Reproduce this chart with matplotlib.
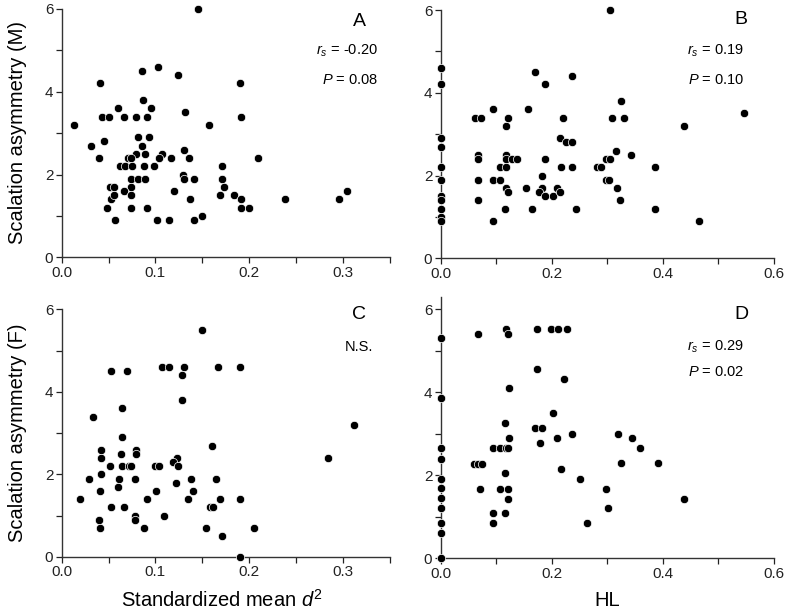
import matplotlib
matplotlib.use("Agg")
import matplotlib.pyplot as plt
import numpy as np

plt.rcParams['font.family'] = ['Liberation Sans', 'DejaVu Sans']
plt.rcParams['mathtext.fontset'] = 'custom'
plt.rcParams['mathtext.rm'] = 'Liberation Sans'
plt.rcParams['mathtext.it'] = 'Liberation Sans:italic'

# ---- data ----
a_x = [0.145, 0.013, 0.041, 0.086, 0.103, 0.124, 0.087, 0.060, 0.095, 0.043, 0.050, 0.066, 0.079, 0.091,
       0.132, 0.157, 0.031, 0.045, 0.081, 0.093, 0.086, 0.040, 0.079, 0.089, 0.071, 0.074, 0.107, 0.104,
       0.117, 0.130, 0.136, 0.062, 0.068, 0.075, 0.088, 0.099, 0.074, 0.081, 0.089, 0.129, 0.131, 0.141,
       0.171, 0.171, 0.173, 0.169, 0.052, 0.056, 0.074, 0.066, 0.053, 0.056, 0.074, 0.120, 0.137, 0.048,
       0.074, 0.091, 0.057, 0.102, 0.114, 0.141, 0.150, 0.190, 0.191, 0.209, 0.184, 0.191, 0.191, 0.200,
       0.238, 0.296, 0.304]
a_y = [6.0, 3.2, 4.2, 4.5, 4.6, 4.4, 3.8, 3.6, 3.6, 3.4, 3.4, 3.4, 3.4, 3.4,
       3.5, 3.2, 2.7, 2.8, 2.9, 2.9, 2.7, 2.4, 2.5, 2.5, 2.4, 2.4, 2.5, 2.4,
       2.4, 2.6, 2.4, 2.2, 2.2, 2.2, 2.2, 2.2, 1.9, 1.9, 1.9, 2.0, 1.9, 1.9,
       2.2, 1.9, 1.7, 1.5, 1.7, 1.7, 1.7, 1.6, 1.4, 1.5, 1.5, 1.6, 1.4, 1.2,
       1.2, 1.2, 0.9, 0.9, 0.9, 0.9, 1.0, 4.2, 3.4, 2.4, 1.5, 1.4, 1.2, 1.2,
       1.4, 1.4, 1.6]

b_x = [0, 0, 0, 0, 0, 0, 0, 0, 0, 0, 0,
       0.061, 0.073, 0.095, 0.067, 0.067, 0.067, 0.067, 0.095, 0.107, 0.107, 0.117, 0.095, 0.117, 0.122,
       0.117, 0.117, 0.128, 0.137, 0.117, 0.122, 0.115, 0.154, 0.157, 0.169, 0.188, 0.165, 0.188, 0.183,
       0.183, 0.177, 0.188, 0.203, 0.210, 0.214, 0.214, 0.221, 0.226, 0.237, 0.216, 0.236, 0.236, 0.243,
       0.304, 0.325, 0.309, 0.330, 0.316, 0.343, 0.298, 0.304, 0.281, 0.289, 0.297, 0.303, 0.317, 0.322,
       0.386, 0.386, 0.438, 0.465, 0.546]
b_y = [4.6, 4.2, 2.9, 2.7, 2.2, 1.9, 1.5, 1.4, 1.2, 1.0, 0.9,
       3.4, 3.4, 3.6, 2.5, 2.4, 1.9, 1.4, 1.9, 1.9, 2.2, 2.2, 0.9, 3.2, 3.4,
       2.5, 2.4, 2.4, 2.4, 1.7, 1.6, 1.2, 1.7, 3.6, 4.5, 4.2, 1.2, 2.4, 2.0,
       1.7, 1.6, 1.5, 1.5, 1.7, 1.6, 2.9, 3.4, 2.8, 2.8, 2.2, 2.2, 4.4, 1.2,
       6.0, 3.8, 3.4, 3.4, 2.6, 2.5, 2.4, 2.4, 2.2, 2.2, 1.9, 1.9, 1.7, 1.4,
       2.2, 1.2, 3.2, 0.9, 3.5]

c_x = [0.150, 0.053, 0.070, 0.107, 0.115, 0.131, 0.167, 0.128, 0.128, 0.064, 0.033, 0.064, 0.160, 0.042,
       0.042, 0.079, 0.079, 0.063, 0.123, 0.119, 0.124, 0.052, 0.064, 0.072, 0.074, 0.100, 0.104, 0.042,
       0.029, 0.061, 0.078, 0.138, 0.165, 0.060, 0.122, 0.041, 0.101, 0.140, 0.019, 0.091, 0.135, 0.169,
       0.053, 0.066, 0.158, 0.161, 0.078, 0.078, 0.109, 0.040, 0.041, 0.088, 0.154, 0.171, 0.190, 0.312,
       0.284, 0.190, 0.205, 0.190]
c_y = [5.5, 4.5, 4.5, 4.6, 4.6, 4.6, 4.6, 4.4, 3.8, 3.6, 3.4, 2.9, 2.7, 2.6,
       2.4, 2.6, 2.5, 2.5, 2.4, 2.3, 2.2, 2.2, 2.2, 2.2, 2.2, 2.2, 2.2, 2.0,
       1.9, 1.9, 1.9, 1.9, 1.9, 1.7, 1.8, 1.6, 1.6, 1.6, 1.4, 1.4, 1.4, 1.4,
       1.2, 1.2, 1.2, 1.2, 1.0, 0.9, 1.0, 0.9, 0.7, 0.7, 0.7, 0.5, 4.6, 3.2,
       2.4, 1.4, 0.7, 0.0]

d_x = [0, 0, 0, 0, 0, 0, 0, 0, 0, 0, 0,
       0.067, 0.117, 0.122, 0.174, 0.198, 0.212, 0.228, 0.174, 0.222, 0.123, 0.202, 0.115, 0.169, 0.183,
       0.237, 0.123, 0.210, 0.178, 0.095, 0.107, 0.117, 0.122, 0.060, 0.067, 0.075, 0.216, 0.115, 0.251,
       0.070, 0.107, 0.122, 0.122, 0.095, 0.115, 0.095, 0.319, 0.344, 0.359, 0.324, 0.392, 0.298, 0.302,
       0.263, 0.438]
d_y = [5.3, 3.85, 2.65, 2.4, 1.9, 1.7, 1.45, 1.2, 0.85, 0.6, 0.0,
       5.4, 5.53, 5.4, 5.53, 5.53, 5.53, 5.53, 4.57, 4.33, 4.1, 3.5, 3.25, 3.13, 3.13,
       3.0, 2.9, 2.9, 2.77, 2.65, 2.65, 2.65, 2.65, 2.28, 2.28, 2.28, 2.16, 2.05, 1.92,
       1.68, 1.68, 1.68, 1.44, 1.09, 1.09, 0.84, 3.0, 2.9, 2.65, 2.29, 2.29, 1.68, 1.2,
       0.84, 1.44]

d2_ticks = [0.0, 0.05, 0.1, 0.15, 0.2, 0.25, 0.3, 0.35]
d2_labels = ['0.0', '', '0.1', '', '0.2', '', '0.3', '']
hl_ticks = [0.0, 0.1, 0.2, 0.3, 0.4, 0.5, 0.6]
hl_labels = ['0.0', '', '0.2', '', '0.4', '', '0.6']
y_ticks = [0, 1, 2, 3, 4, 5, 6]
y_labels = ['0', '', '2', '', '4', '', '6']

W, H = 789, 612
fig = plt.figure(figsize=(W / 100, H / 100), dpi=100)

def px_axes(l, r, t, b):
    return fig.add_axes([l / W, 1 - b / H, (r - l) / W, (b - t) / H])

axA = px_axes(61.7, 389.7, 9.0, 257.3)
axB = px_axes(440.7, 774.0, 10.0, 258.3)
axC = px_axes(61.7, 389.7, 309.3, 557.0)
axD = px_axes(440.7, 774.0, 296.7, 558.3)

def style(ax, xs, ys, xt, xl, xmax, ymax):
    ax.scatter(xs, ys, s=36, c='black', edgecolors='white', linewidths=0.5, zorder=3, clip_on=False)
    ax.set_xlim(0, xmax)
    ax.set_ylim(0, ymax)
    ax.set_xticks(xt)
    ax.set_xticklabels(xl)
    ax.set_yticks(y_ticks)
    ax.set_yticklabels(y_labels)
    for s in ['top', 'right']:
        ax.spines[s].set_visible(False)
    for s in ['left', 'bottom']:
        ax.spines[s].set_linewidth(1.0)
        ax.spines[s].set_color('#333333')
    ax.tick_params(direction='out', length=4, width=0.9, labelsize=11, colors='#222222', pad=2)
    ax.set_facecolor('none')

style(axA, a_x, a_y, d2_ticks, d2_labels, 0.35, 6)
style(axB, b_x, b_y, hl_ticks, hl_labels, 0.6, 6)
style(axC, c_x, c_y, d2_ticks, d2_labels, 0.35, 6)
style(axD, d_x, d_y, hl_ticks, hl_labels, 0.6, 6.3)

def ftxt(x, y, s, ha='center', size=10.5):
    fig.text(x / W, 1 - y / H, s, ha=ha, va='center', fontsize=size)

ftxt(359, 21, 'A', size=14)
ftxt(378, 51, r'$r_s$ = -0.20', ha='right')
ftxt(378, 80, r'$P$ = 0.08', ha='right')
ftxt(741, 20, 'B', size=14)
ftxt(744, 51, r'$r_s$ = 0.19', ha='right')
ftxt(744, 80, r'$P$ = 0.10', ha='right')
ftxt(359, 315, 'C', size=14)
ftxt(359, 347, 'N.S.')
ftxt(741, 315, 'D', size=14)
ftxt(744, 347, r'$r_s$ = 0.29', ha='right')
ftxt(744, 372, r'$P$ = 0.02', ha='right')

fig.text(18 / W, 1 - 133 / H, 'Scalation asymmetry (M)', rotation=90, ha='center', va='center', fontsize=14.5)
fig.text(18 / W, 1 - 433 / H, 'Scalation asymmetry (F)', rotation=90, ha='center', va='center', fontsize=14.5)
fig.text(222 / W, 1 - 600 / H, r'Standardized mean $d^2$', ha='center', va='center', fontsize=14.5)
fig.text(607 / W, 1 - 600 / H, 'HL', ha='center', va='center', fontsize=14.5)

fig.savefig('out.png', dpi=100)
